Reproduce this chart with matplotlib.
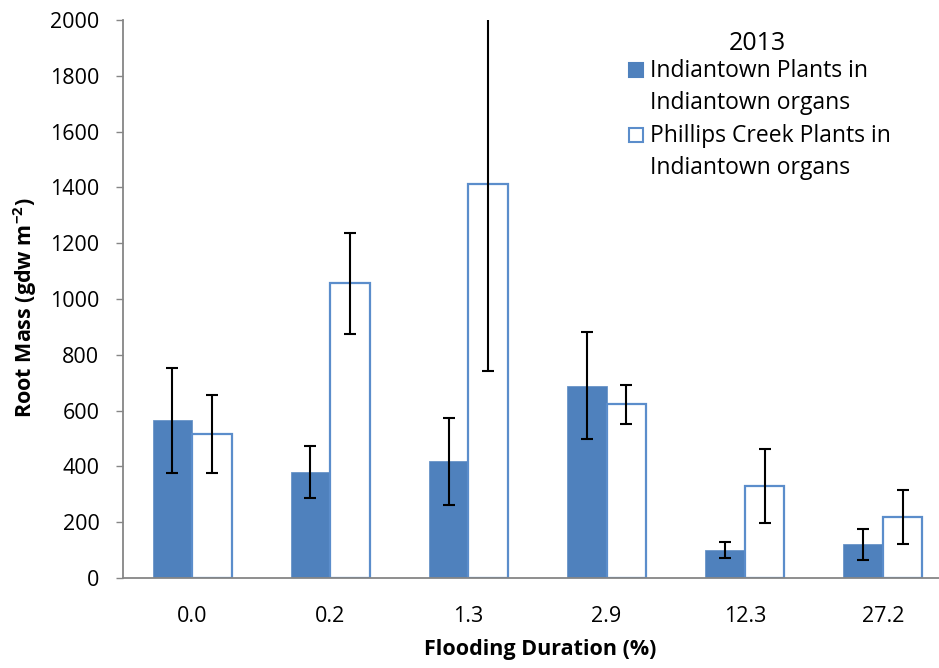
import matplotlib.pyplot as plt
from matplotlib.patches import Rectangle

# root mass by flooding duration, 2013
durations = ["0.0", "0.2", "1.3", "2.9", "12.3", "27.2"]
indiantown_mass = [566, 379, 418, 689, 100, 121]
indiantown_err = [188, 93, 156, 192, 28, 56]
phillips_mass = [517, 1057, 1412, 622, 331, 220]
phillips_err = [139, 181, 669, 71, 133, 97]

blue = "#4F81BD"
edge_blue = "#5B8DCB"
axis_grey = "#868686"
plt.rcParams["font.family"] = ["Open Sans", "DejaVu Sans"]

W, H = 939, 668
fig = plt.figure(figsize=(W / 100, H / 100), dpi=100)
# the plot area runs slightly past the right edge of the figure
ax = fig.add_axes([123 / W, 90 / H, 829 / W, 558 / H])

x = list(range(len(durations)))
bw = 0.286
x1 = [i - bw / 2 for i in x]
x2 = [i + bw / 2 for i in x]

ax.bar(x1, indiantown_mass, width=bw, color=blue, edgecolor="#6A94C8", linewidth=0.6, zorder=2)
ax.bar(x2, phillips_mass, width=bw, color="white", edgecolor=edge_blue, linewidth=1.6, zorder=2)
ebar = dict(fmt="none", ecolor="black", elinewidth=1.5, capsize=4.6, capthick=1.5, zorder=3)
ax.errorbar(x1, indiantown_mass, yerr=indiantown_err, **ebar)
ax.errorbar(x2, phillips_mass, yerr=phillips_err, **ebar)

ax.set_xlim(-0.5, 5.5)
ax.set_ylim(0, 2000)
ax.set_yticks(range(0, 2001, 200))
ax.set_xticks(x)
ax.set_xticklabels(durations)
ax.tick_params(axis="x", length=0, labelsize=15.5, pad=20)
ax.tick_params(axis="y", length=5, width=1, color=axis_grey, labelsize=15.5, pad=12)
for s in ["top", "right"]:
    ax.spines[s].set_visible(False)
for s in ["left", "bottom"]:
    ax.spines[s].set_color(axis_grey)
    ax.spines[s].set_linewidth(1.3)

fig.text(25 / W, 1 - 308 / H, "Root Mass (gdw m$^{\\mathregular{-2}}$)", fontsize=15.5,
         fontweight="bold", rotation=90, ha="center", va="center")
fig.text(540 / W, 1 - 649 / H, "Flooding Duration (%)", fontsize=15.5, fontweight="bold",
         ha="center", va="center")

# legend
fig.text(757 / W, 1 - 43 / H, "2013", fontsize=18, ha="center", va="center")
entries = [("Indiantown Plants in\nIndiantown organs", blue, blue),
           ("Phillips Creek Plants in\nIndiantown organs", "white", edge_blue)]
for k, (label, face, edge) in enumerate(entries):
    top = 70 + k * 65
    fig.patches.append(Rectangle((629 / W, 1 - (top + 7) / H), 14 / W, 14 / H,
                                 transform=fig.transFigure, facecolor=face,
                                 edgecolor=edge, linewidth=1.5))
    fig.text(650 / W, 1 - (top - 11) / H, label, fontsize=16.5, ha="left", va="top",
             linespacing=1.42)

fig.savefig("out.png", dpi=100)
